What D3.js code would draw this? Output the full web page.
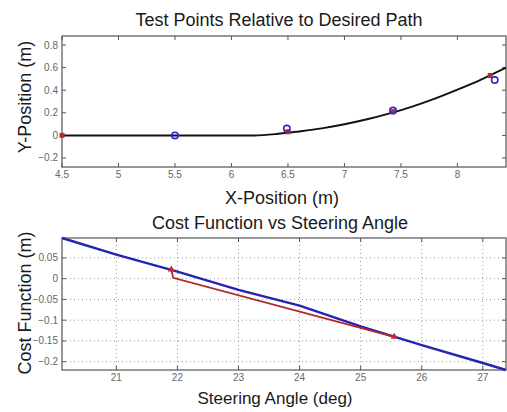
<!DOCTYPE html>
<html>
<head>
<meta charset="utf-8">
<script src="https://cdn.jsdelivr.net/npm/d3@7"></script>
<style>
  html, body { margin: 0; padding: 0; background: #fff; }
  svg { display: block; font-family: "Liberation Sans", Arial, sans-serif; }
</style>
</head>
<body>
<svg id="chart" width="507" height="412"></svg>
<script>
// ---- Path data (top panel) ----
const pathX = [4.5, 5.0, 5.5, 6.0, 6.2, 6.4, 6.6, 6.8, 7.0, 7.2, 7.4, 7.6, 7.8, 8.0, 8.2, 8.43];
const pathY = [0, 0, 0, 0, 0, 0.012, 0.035, 0.062, 0.098, 0.142, 0.195, 0.255, 0.325, 0.405, 0.49, 0.6];

// Test points (blue circles) and reference points (red markers)
const testX = [5.5, 6.49, 7.43, 8.33];
const testY = [0, 0.06, 0.22, 0.49];
const refX = [4.5, 6.5, 7.43, 8.29];
const refY = [0, 0.032, 0.21, 0.53];

const topXTicks = [4.5, 5, 5.5, 6, 6.5, 7, 7.5, 8];
const topYTicks = [-0.2, 0, 0.2, 0.4, 0.6, 0.8];

// ---- Cost function data (bottom panel) ----
const angle = [20.11, 21, 22, 23, 24, 25, 26, 27, 27.38];
const cost = [0.098, 0.058, 0.017, -0.027, -0.065, -0.115, -0.16, -0.203, -0.22];
const iterAngle = [21.9, 21.93, 25.55];
const iterCost = [0.022, 0.002, -0.14];

const botXTicks = [21, 22, 23, 24, 25, 26, 27];
const botYTicks = [-0.2, -0.15, -0.1, -0.05, 0, 0.05];

const svg = d3.select("#chart");
const textCol = "#1a1a1a";
const tickCol = "#666";
const frameCol = "#555";

function frame(g, x, y, xTicks, yTicks, fmtX, fmtY, grid) {
  const [x0, x1] = x.range();
  const [y0, y1] = y.range(); // y0 bottom, y1 top
  if (grid) {
    g.append("g").selectAll("line").data(xTicks).join("line")
      .attr("x1", d => x(d)).attr("x2", d => x(d))
      .attr("y1", y0).attr("y2", y1)
      .attr("stroke", "#999").attr("stroke-width", 1)
      .attr("stroke-dasharray", "1,3");
    g.append("g").selectAll("line").data(yTicks).join("line")
      .attr("x1", x0).attr("x2", x1)
      .attr("y1", d => y(d)).attr("y2", d => y(d))
      .attr("stroke", "#999").attr("stroke-width", 1)
      .attr("stroke-dasharray", "1,3");
  }
  // Inward ticks on all four sides
  const tl = 4;
  const tk = g.append("g").attr("stroke", frameCol).attr("stroke-width", 1);
  xTicks.forEach(d => {
    tk.append("line").attr("x1", x(d)).attr("x2", x(d)).attr("y1", y0).attr("y2", y0 - tl);
    tk.append("line").attr("x1", x(d)).attr("x2", x(d)).attr("y1", y1).attr("y2", y1 + tl);
  });
  yTicks.forEach(d => {
    tk.append("line").attr("x1", x0).attr("x2", x0 + tl).attr("y1", y(d)).attr("y2", y(d));
    tk.append("line").attr("x1", x1).attr("x2", x1 - tl).attr("y1", y(d)).attr("y2", y(d));
  });
  g.append("rect").attr("x", x0).attr("y", y1)
    .attr("width", x1 - x0).attr("height", y0 - y1)
    .attr("fill", "none").attr("stroke", frameCol).attr("stroke-width", 1.2);
  g.append("g").selectAll("text").data(xTicks).join("text")
    .attr("x", d => x(d)).attr("y", y0 + 11)
    .attr("text-anchor", "middle").attr("font-size", 10).attr("fill", tickCol)
    .text(fmtX);
  g.append("g").selectAll("text").data(yTicks).join("text")
    .attr("x", x0 - 4).attr("y", d => y(d) + 3.5)
    .attr("text-anchor", "end").attr("font-size", 10).attr("fill", tickCol)
    .text(fmtY);
}

// ---------- Top panel ----------
const tX = d3.scaleLinear().domain([4.5, 8.43]).range([62, 506]);
const tY = d3.scaleLinear().domain([-0.28, 0.88]).range([167, 36]);
const topPanel = svg.append("g");
frame(topPanel, tX, tY, topXTicks, topYTicks, d => d3.format("")(d), d => d3.format("")(d), false);

topPanel.append("path")
  .datum(pathX.map((d, i) => [d, pathY[i]]))
  .attr("d", d3.line().x(d => tX(d[0])).y(d => tY(d[1])).curve(d3.curveMonotoneX))
  .attr("fill", "none").attr("stroke", "#111").attr("stroke-width", 2);

topPanel.append("g").selectAll("rect").data(refX.map((d, i) => [d, refY[i]])).join("rect")
  .attr("x", d => tX(d[0]) - 2.5).attr("y", d => tY(d[1]) - 2.5)
  .attr("width", 5).attr("height", 5).attr("fill", "#c02828");

topPanel.append("g").selectAll("circle").data(testX.map((d, i) => [d, testY[i]])).join("circle")
  .attr("cx", d => tX(d[0])).attr("cy", d => tY(d[1])).attr("r", 3.2)
  .attr("fill", "none").attr("stroke", "#2a2ad0").attr("stroke-width", 1.6);

topPanel.append("text").attr("x", 279).attr("y", 26).attr("text-anchor", "middle")
  .attr("font-size", 18).attr("fill", textCol).text("Test Points Relative to Desired Path");
topPanel.append("text").attr("x", 282).attr("y", 204).attr("text-anchor", "middle")
  .attr("font-size", 18).attr("fill", textCol).text("X-Position (m)");
topPanel.append("text").attr("transform", "translate(31,97) rotate(-90)").attr("text-anchor", "middle")
  .attr("font-size", 18).attr("fill", textCol).text("Y-Position (m)");

// ---------- Bottom panel ----------
const bX = d3.scaleLinear().domain([20.11, 27.38]).range([62, 506]);
const bY = d3.scaleLinear().domain([-0.22, 0.098]).range([370, 238]);
const botPanel = svg.append("g");
frame(botPanel, bX, bY, botXTicks, botYTicks, d => d3.format("")(d), d => d3.format("")(d), true);

botPanel.append("path")
  .datum(angle.map((d, i) => [d, cost[i]]))
  .attr("d", d3.line().x(d => bX(d[0])).y(d => bY(d[1])))
  .attr("fill", "none").attr("stroke", "#2424b4").attr("stroke-width", 2.5);

botPanel.append("path")
  .datum(iterAngle.map((d, i) => [d, iterCost[i]]))
  .attr("d", d3.line().x(d => bX(d[0])).y(d => bY(d[1])))
  .attr("fill", "none").attr("stroke", "#b02828").attr("stroke-width", 1.8);

botPanel.append("g").selectAll("path").data([[iterAngle[0], iterCost[0]], [iterAngle[2], iterCost[2]]]).join("path")
  .attr("transform", d => `translate(${bX(d[0])},${bY(d[1])})`)
  .attr("d", d3.symbol(d3.symbolTriangle, 22))
  .attr("fill", "#c02828");

botPanel.append("text").attr("x", 280).attr("y", 229).attr("text-anchor", "middle")
  .attr("font-size", 18).attr("fill", textCol).text("Cost Function vs Steering Angle");
botPanel.append("text").attr("x", 275).attr("y", 404).attr("text-anchor", "middle")
  .attr("font-size", 17).attr("fill", textCol).text("Steering Angle (deg)");
botPanel.append("text").attr("transform", "translate(31,303) rotate(-90)").attr("text-anchor", "middle")
  .attr("font-size", 18).attr("fill", textCol).text("Cost Function (m)");
</script>
</body>
</html>
